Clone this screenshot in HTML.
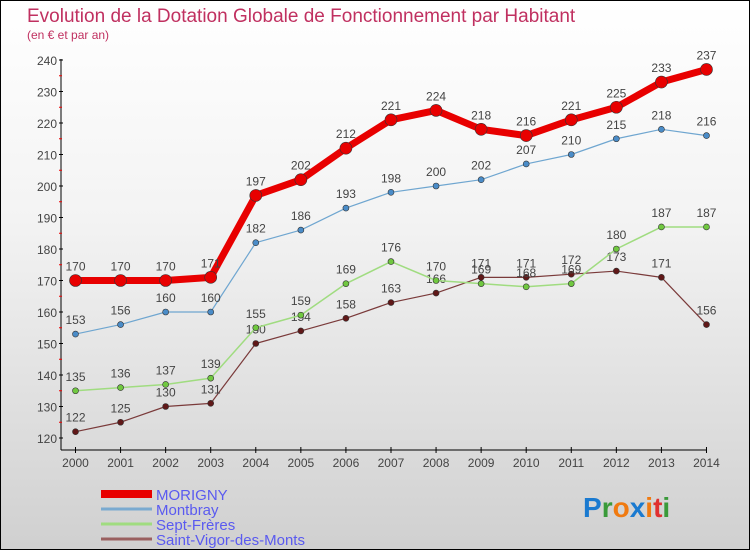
<!DOCTYPE html>
<html><head><meta charset="utf-8"><style>
body{margin:0}
#c{width:748px;height:548px;border:1px solid #000;background:linear-gradient(#fff,#f3f3f3 40%,#d0d0d0);position:relative;font-family:"Liberation Sans",sans-serif;overflow:hidden}
</style></head><body>
<div id="c">
<svg id="s" width="748" height="548"></svg>
</div>
<script>
const years=[2000,2001,2002,2003,2004,2005,2006,2007,2008,2009,2010,2011,2012,2013,2014];
const morigny=[170,170,170,171,197,202,212,221,224,218,216,221,225,233,237];
const montbray=[153,156,160,160,182,186,193,198,200,202,207,210,215,218,216];
const sept=[135,136,137,139,155,159,169,176,170,169,168,169,180,187,187];
const vigor=[122,125,130,131,150,154,158,163,166,171,171,172,173,171,156];
const yTicks=[120,130,140,150,160,170,180,190,200,210,220,230,240];
const NS="http://www.w3.org/2000/svg";
const s=document.getElementById('s');
const X=i=>74.5+i*45.07, Y=v=>437-(v-120)*3.15;
function el(t,a,p){const e=document.createElementNS(NS,t);for(const k in a)e.setAttribute(k,a[k]);(p||s).appendChild(e);return e;}
function txt(x,y,str,a){const e=el('text',Object.assign({x:x,y:y},a));e.textContent=str;return e;}
let t=txt(26,21,'Evolution de la Dotation Globale de Fonctionnement par Habitant',{fill:'#c03060','font-size':19});

t=txt(26,38,'(en € et par an)',{fill:'#c03060','font-size':12});

let a=el('line',{x1:60,y1:58,x2:60,y2:449,stroke:'#000'});

a=el('line',{x1:60,y1:449,x2:706,y2:449,stroke:'#000'});

yTicks.forEach((v,i)=>{
  el('line',{x1:58,y1:Y(v),x2:62,y2:Y(v),stroke:'#000'});
  if(i<yTicks.length-1)el('line',{x1:58,y1:Y(v+5),x2:61,y2:Y(v+5),stroke:'#e00'});
  const l=txt(56,Y(v)+5,v,{'text-anchor':'end','font-size':12,fill:'#444'});
  
});
years.forEach((y,i)=>{
  el('line',{x1:X(i),y1:446,x2:X(i),y2:452,stroke:'#000'});
  const l=txt(X(i),466,y,{'text-anchor':'middle','font-size':12,fill:'#444'});
  
});
function series(data,col,dot,w,r,name){
  const g=el('g',{});
  
  el('polyline',{points:data.map((v,i)=>X(i)+','+Y(v)).join(' '),fill:'none',stroke:col,'stroke-width':w,'stroke-linejoin':'round'},g);
  data.forEach((v,i)=>{
    const c=el('circle',{cx:X(i),cy:Y(v),r:r,fill:dot,stroke:'#333','stroke-width':0.6},g);
    
    const l=txt(X(i),Y(v)-10,v,{'text-anchor':'middle','font-size':12,fill:'#444'},g);
    
  });
}
series(vigor,'#7a3a3a','#601818',1.2,3,'saint-vigor');
series(sept,'#a0dc80','#70c840',1.5,3,'sept-freres');
series(montbray,'#6fa6d0','#4a8cc8',1.2,3,'montbray');
series(morigny,'#e80000','#e80000',7,6,'morigny');
const leg=[['MORIGNY','#e80000',8],['Montbray','#7aaad0',3],['Sept-Frères','#a0dc80',3],['Saint-Vigor-des-Monts','#9a6060',3]];
leg.forEach((l,i)=>{
  const g=el('g',{});
  
  const y=492+i*15;
  el('line',{x1:100,y1:y+1,x2:151,y2:y+1,stroke:l[1],'stroke-width':l[2]},g);
  txt(155,y+7,l[0],{'font-size':15,fill:'#5a5af0'},g);
});
const p=el('text',{x:582,y:516,'font-size':28,'font-weight':'bold'});

[['P','#1a7ad0'],['r','#3a9a3a'],['o','#f07a10'],['x','#1a7ad0'],['i','#f07a10'],['t','#e03030'],['i','#3a9a3a']].forEach(c=>{const ts=el('tspan',{fill:c[1]},p);ts.textContent=c[0];});
</script>
</body></html>
